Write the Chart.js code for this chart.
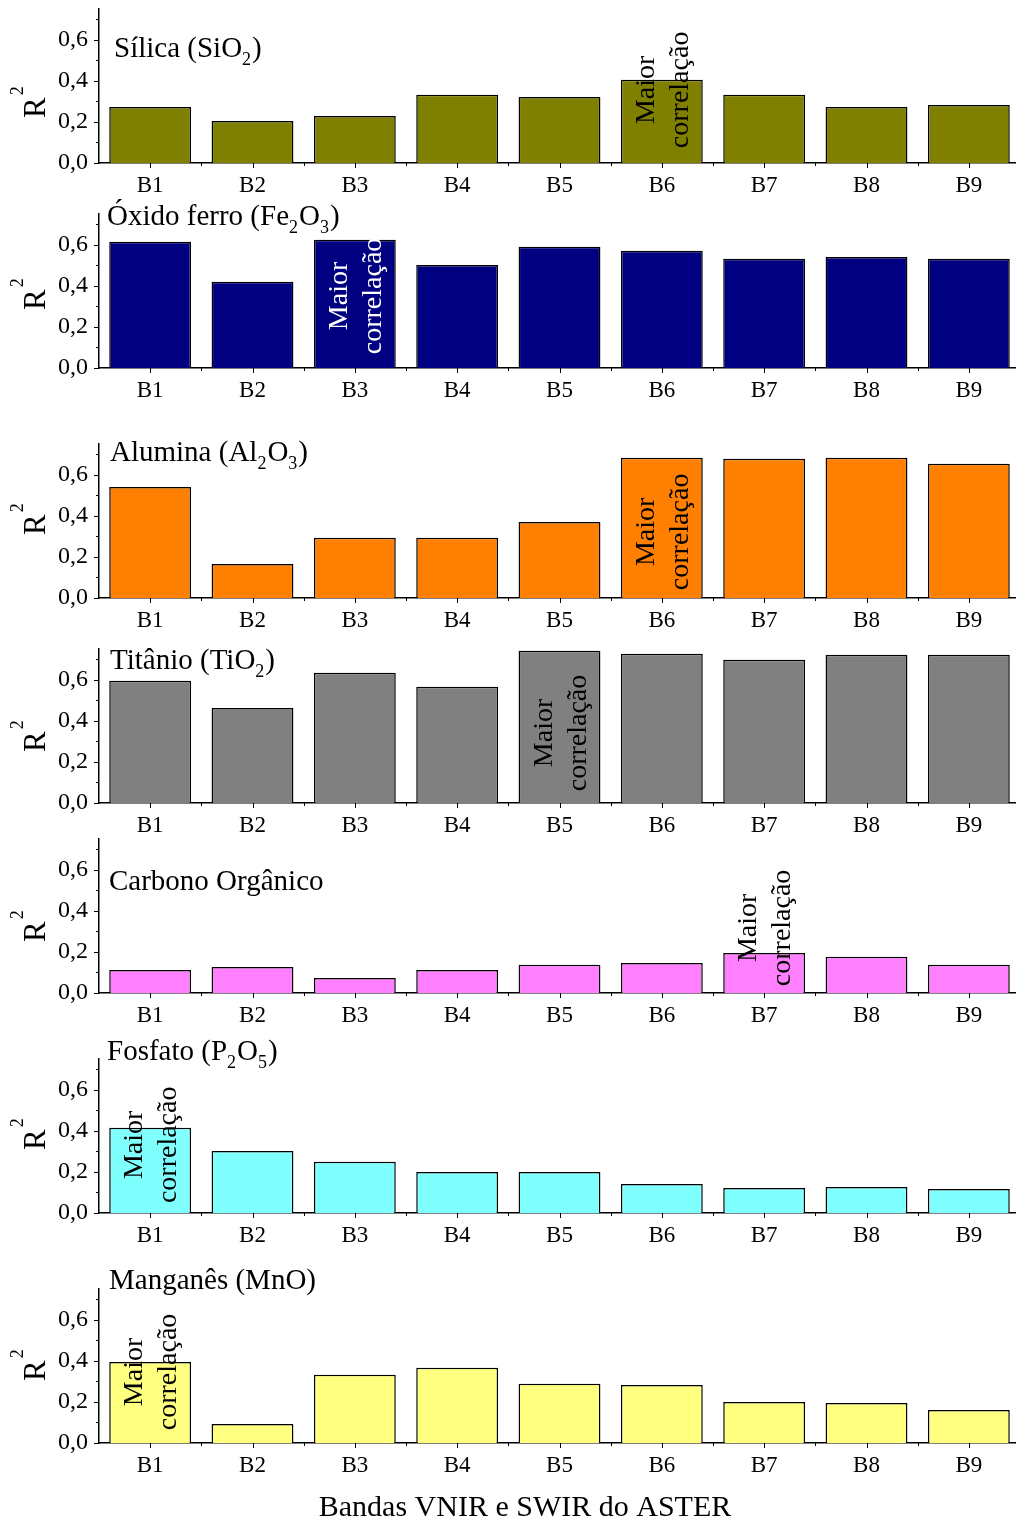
<!DOCTYPE html>
<html>
<head>
<meta charset="utf-8">
<script src="https://cdn.jsdelivr.net/npm/chart.js@4"></script>
<style>
  html, body { margin: 0; padding: 0; overflow: hidden; background: #fff; }
  #wrap { position: relative; width: 1016px; height: 1519px; overflow: hidden; }
  #wrap canvas { position: absolute; left: 0; }
</style>
</head>
<body>
<div id="wrap"></div>
<script>
// bandas ASTER
const categories = ['B1', 'B2', 'B3', 'B4', 'B5', 'B6', 'B7', 'B8', 'B9'];

// R2 por banda
const silica   = [0.273, 0.205, 0.229, 0.332, 0.322, 0.405, 0.332, 0.273, 0.283];
const ferro    = [0.615, 0.420, 0.624, 0.502, 0.590, 0.571, 0.532, 0.541, 0.532];
const alumina  = [0.541, 0.166, 0.293, 0.293, 0.370, 0.683, 0.678, 0.683, 0.654];
const titanio  = [0.595, 0.463, 0.634, 0.566, 0.741, 0.727, 0.698, 0.722, 0.722];
const carbono  = [0.112, 0.127, 0.073, 0.112, 0.137, 0.146, 0.195, 0.176, 0.137];
const fosfato  = [0.415, 0.302, 0.249, 0.200, 0.200, 0.141, 0.122, 0.127, 0.117];
const manganes = [0.395, 0.093, 0.332, 0.366, 0.288, 0.283, 0.200, 0.195, 0.161];

const yTicks = [0, 0.1, 0.2, 0.3, 0.4, 0.5, 0.6, 0.7];

const serif = "'Liberation Serif', 'Times New Roman', serif";
const PAD_TOP = 40, PLOT_H = 154, AXIS_H = 45, CANVAS_W = 1020;

// layout de cada painel (coordenadas da pagina)
const panels = [
  { data: silica,   color: '#808000', zero: 163,  title: [['Sílica (SiO'], ['2', 1], [')']],              tx: 114, ty: 57,   best: 5, bestAt: 0.356, bestColor: '#000', rY: 118 },
  { data: ferro,    color: '#000080', zero: 368,  title: [['Óxido ferro (Fe'], ['2', 1], ['O'], ['3', 1], [')']], tx: 107, ty: 225, best: 2, bestAt: 0.351, bestColor: '#fff', rY: 310 },
  { data: alumina,  color: '#FF8000', zero: 598,  title: [['Alumina (Al'], ['2', 1], ['O'], ['3', 1], [')']],  tx: 110, ty: 461,  best: 5, bestAt: 0.322, bestColor: '#000', rY: 535 },
  { data: titanio,  color: '#808080', zero: 803,  title: [['Titânio (TiO'], ['2', 1], [')']],            tx: 110, ty: 669,  best: 4, bestAt: 0.341, bestColor: '#000', rY: 752 },
  { data: carbono,  color: '#FF80FF', zero: 993,  title: [['Carbono Orgânico']],                          tx: 109, ty: 890,  best: 6, bestAt: 0.317, bestColor: '#000', rY: 942 },
  { data: fosfato,  color: '#80FFFF', zero: 1213, title: [['Fosfato (P'], ['2', 1], ['O'], ['5', 1], [')']],   tx: 107, ty: 1060, best: 0, bestAt: 0.332, bestColor: '#000', rY: 1150 },
  { data: manganes, color: '#FFFF80', zero: 1443, title: [['Manganês (MnO)']],                            tx: 109, ty: 1289, best: 0, bestAt: 0.346, bestColor: '#000', rY: 1381, last: true }
];

Chart.defaults.font.family = serif;
Chart.defaults.color = '#000';

function line(ctx, x1, y1, x2, y2) {
  ctx.beginPath();
  ctx.moveTo(x1, y1);
  ctx.lineTo(x2, y2);
  ctx.stroke();
}

function makeDecor(p, top) {
  return {
    id: 'decor',
    afterDraw(chart) {
      const { ctx, chartArea: a, scales: { x, y } } = chart;
      ctx.save();
      ctx.strokeStyle = '#000';
      ctx.lineWidth = 1;

      // ticks do eixo y (maiores e menores)
      yTicks.forEach((v, i) => {
        const py = Math.round(y.getPixelForValue(v)) + 0.5;
        line(ctx, a.left - (i % 2 ? 3 : 5), py, a.left, py);
      });
      // ticks do eixo x
      categories.forEach((c, i) => {
        const px = Math.round(x.getPixelForValue(i)) + 0.5;
        line(ctx, px, a.bottom, px, a.bottom + 5);
        const pb = Math.round(x.getPixelForValue(i + 0.5)) + 0.5;
        line(ctx, pb, a.bottom, pb, a.bottom + 3);
      });

      // titulo com subscritos
      ctx.fillStyle = '#000';
      ctx.textBaseline = 'alphabetic';
      ctx.textAlign = 'left';
      let tx = p.tx;
      p.title.forEach(([s, sub]) => {
        ctx.font = (sub ? '18px ' : '29px ') + serif;
        ctx.fillText(s, tx, p.ty - top + (sub ? 8 : 0));
        tx += ctx.measureText(s).width + (sub ? 1 : 0);
      });

      // R^2
      ctx.save();
      ctx.translate(45, p.rY - top);
      ctx.rotate(-Math.PI / 2);
      ctx.font = '31px ' + serif;
      ctx.fillText('R', 0, 0);
      const wR = ctx.measureText('R').width;
      ctx.font = '18px ' + serif;
      ctx.fillText('2', wR + 2, -22);
      ctx.restore();

      // Maior correlação
      ctx.save();
      ctx.translate(x.getPixelForValue(p.best), y.getPixelForValue(p.bestAt));
      ctx.rotate(-Math.PI / 2);
      ctx.fillStyle = p.bestColor;
      ctx.textAlign = 'center';
      ctx.font = '28px ' + serif;
      ctx.fillText('Maior', 0, -8);
      ctx.fillText('correlação', 0, 26);
      ctx.restore();

      if (p.last) {
        ctx.font = '30px ' + serif;
        ctx.textAlign = 'center';
        ctx.fillText('Bandas VNIR e SWIR do ASTER', 525, a.bottom + 73);
      }
      ctx.restore();
    }
  };
}

const wrap = document.getElementById('wrap');

panels.forEach(p => {
  const top = p.zero - PLOT_H - PAD_TOP;
  const axisH = p.last ? 90 : AXIS_H;
  const canvas = document.createElement('canvas');
  canvas.width = CANVAS_W;
  canvas.height = PAD_TOP + PLOT_H + axisH;
  canvas.style.top = top + 'px';
  wrap.appendChild(canvas);

  new Chart(canvas, {
    type: 'bar',
    data: {
      labels: categories,
      datasets: [{
        data: p.data,
        backgroundColor: p.color,
        borderColor: '#000',
        borderWidth: 1.5,
        barPercentage: 0.8,
        categoryPercentage: 1.0
      }]
    },
    options: {
      responsive: false,
      animation: false,
      layout: { padding: { top: PAD_TOP, left: 0, right: 0, bottom: 0 } },
      plugins: { legend: { display: false }, tooltip: { enabled: false } },
      scales: {
        x: {
          grid: { display: false, drawTicks: false },
          border: { display: true, color: '#000', width: 1.5 },
          ticks: { font: { size: 23 }, padding: 9, maxRotation: 0 },
          afterFit: s => { s.height = axisH; }
        },
        y: {
          min: 0,
          max: 0.75,
          grid: { display: false, drawTicks: false },
          border: { display: true, color: '#000', width: 1.5 },
          ticks: {
            stepSize: 0.2,
            includeBounds: false,
            padding: 11,
            font: { size: 24 },
            callback: v => v.toFixed(1).replace('.', ',')
          },
          afterFit: s => { s.width = 99; }
        }
      }
    },
    plugins: [makeDecor(p, top)]
  });
});
</script>
</body>
</html>
